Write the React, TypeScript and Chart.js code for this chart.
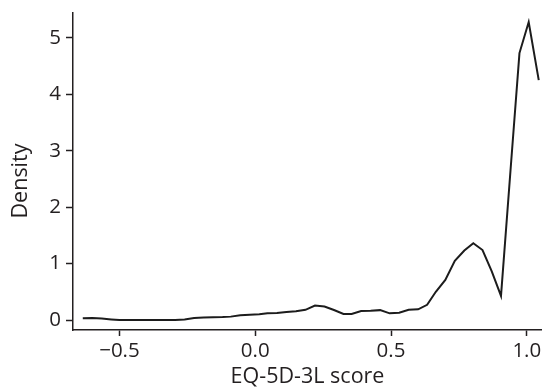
import React, { useEffect, useRef } from "react";
import { Chart, registerables } from "chart.js";

Chart.register(...registerables);

// EQ-5D-3L score grid (x) and estimated kernel density (y)
const scoreValues = [
  -0.635, -0.6, -0.565, -0.53, -0.5, -0.46, -0.43, -0.39, -0.36, -0.33, -0.295,
  -0.26, -0.225, -0.19, -0.155, -0.12, -0.09, -0.055, -0.02, 0.015, 0.045, 0.08,
  0.115, 0.15, 0.185, 0.22, 0.255, 0.29, 0.325, 0.355, 0.39, 0.425, 0.46, 0.495,
  0.53, 0.565, 0.6, 0.633, 0.665, 0.7, 0.735, 0.77, 0.803, 0.837, 0.871, 0.905,
  0.94, 0.973, 1.007, 1.044,
];
const densityValues = [
  0.03, 0.035, 0.025, 0.01, 0.0, 0.0, 0.0, 0.0, 0.0, 0.0, 0.0,
  0.01, 0.035, 0.045, 0.05, 0.052, 0.06, 0.085, 0.095, 0.1, 0.118, 0.124,
  0.142, 0.155, 0.18, 0.255, 0.24, 0.177, 0.106, 0.106, 0.16, 0.165, 0.175, 0.118,
  0.13, 0.183, 0.189, 0.27, 0.5, 0.71, 1.05, 1.23, 1.36, 1.24, 0.86, 0.426,
  2.65, 4.73, 5.28, 4.25,
];

const xTickValues = [-0.5, 0, 0.5, 1.0];
const xTickLabels = ["\u22120.5", "0.0", "0.5", "1.0"];
const yTickValues = [0, 1, 2, 3, 4, 5];
const yTickLabels = ["0", "1", "2", "3", "4", "5"];

const xTitle = "EQ-5D-3L score";
const yTitle = "Density";

const FONT = "'Open Sans', 'Noto Sans', 'DejaVu Sans', sans-serif";
const INK = "#231f20";
const TICK_SIZE = 20.5;
const TITLE_SIZE = 21.5;

export default function App() {
  const canvasRef = useRef<HTMLCanvasElement | null>(null);

  useEffect(() => {
    const canvas = canvasRef.current;
    if (!canvas) return;

    const yTitlePlugin = {
      id: "yTitlePlugin",
      afterDraw(chart: any) {
        const ctx = chart.ctx;
        ctx.save();
        ctx.translate(21, 181);
        ctx.rotate(-Math.PI / 2);
        ctx.font = `${TITLE_SIZE}px ${FONT}`;
        ctx.fillStyle = INK;
        ctx.textAlign = "center";
        ctx.textBaseline = "middle";
        ctx.fillText(yTitle, 0, 0);
        ctx.restore();
      },
    };

    const chart = new Chart(canvas, {
      type: "line",
      data: {
        datasets: [
          {
            data: scoreValues.map((x, i) => ({ x, y: densityValues[i] })),
            borderColor: "#1c1c1c",
            borderWidth: 2,
            pointRadius: 0,
            tension: 0,
            fill: false,
          },
        ],
      },
      options: {
        animation: false,
        responsive: false,
        devicePixelRatio: 1,
        layout: { padding: { top: 13, right: 0, bottom: 0, left: 0 } },
        plugins: { legend: { display: false }, tooltip: { enabled: false } },
        scales: {
          x: {
            type: "linear",
            min: -0.671,
            max: 1.056,
            afterBuildTicks: (scale: any) => {
              scale.ticks = xTickValues.map((v) => ({ value: v }));
            },
            afterFit: (scale: any) => {
              scale.height = 57;
              scale.paddingLeft = 0;
              scale.paddingRight = 0;
            },
            ticks: {
              callback: (_v: any, i: number) => xTickLabels[i],
              font: { family: FONT, size: TICK_SIZE },
              color: INK,
              padding: 3,
              maxRotation: 0,
              autoSkip: false,
            },
            grid: {
              drawOnChartArea: false,
              drawTicks: true,
              tickLength: 6,
              tickColor: INK,
              tickWidth: 1.5,
            },
            border: { display: true, color: INK, width: 1.5 },
            title: {
              display: true,
              text: xTitle,
              font: { family: FONT, size: TITLE_SIZE, lineHeight: 0.95 },
              color: INK,
              padding: { top: 0, bottom: 0 },
            },
          },
          y: {
            type: "linear",
            min: -0.177,
            max: 5.44,
            afterBuildTicks: (scale: any) => {
              scale.ticks = yTickValues.map((v) => ({ value: v }));
            },
            afterFit: (scale: any) => {
              scale.width = 73;
              scale.paddingTop = 0;
              scale.paddingBottom = 0;
            },
            ticks: {
              callback: (_v: any, i: number) => yTickLabels[i],
              font: { family: FONT, size: TICK_SIZE },
              color: INK,
              padding: 5,
              autoSkip: false,
            },
            grid: {
              drawOnChartArea: false,
              drawTicks: true,
              tickLength: 7,
              tickColor: INK,
              tickWidth: 1.5,
            },
            border: { display: true, color: INK, width: 1.5 },
          },
        },
      },
      plugins: [yTitlePlugin],
    });

    return () => chart.destroy();
  }, []);

  return (
    <div style={{ position: "absolute", left: 0, top: 0, width: 542, height: 387, background: "#fff" }}>
      <canvas ref={canvasRef} width={542} height={387} />
    </div>
  );
}
